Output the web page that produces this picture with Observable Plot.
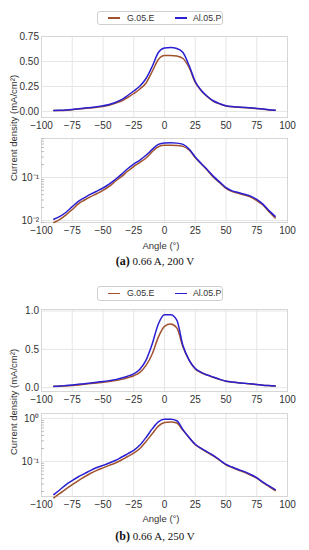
<!DOCTYPE html>
<html>
<head>
<meta charset="utf-8">
<script src="https://cdn.jsdelivr.net/npm/d3@7"></script>
<script src="https://cdn.jsdelivr.net/npm/@observablehq/plot@0.6"></script>
<style>
  html, body { margin: 0; padding: 0; background: #fff; }
  #root { position: relative; width: 309px; height: 550px; overflow: hidden; font-family: "Liberation Sans", Arial, sans-serif; color: #333; }
  .legend { position: absolute; border: 1px solid #cfcfcf; border-radius: 3px; box-sizing: border-box; font-size: 8.8px; color: #333; background: #fff; }
  .legend .sw { position: absolute; height: 1.6px; width: 12px; }
  .legend .lb { position: absolute; line-height: 1; white-space: nowrap; }
  .ylab { position: absolute; white-space: nowrap; font-size: 9.5px; color: #333; transform: translate(-50%, -50%) rotate(-90deg); }
  .xlab { position: absolute; white-space: nowrap; font-size: 9.5px; color: #333; transform: translate(-50%, -50%); }
  .cap { position: absolute; white-space: nowrap; font-family: "Liberation Serif", "DejaVu Serif", serif; font-size: 11px; color: #111; transform: translate(-50%, -50%); }
</style>
</head>
<body>
<div id="root"></div>
<script>
// ---------------- data ----------------
const seriesNames = ["G.05.E", "Al.05.P"];
const angles = [-90,-85,-80,-75,-70,-65,-60,-55,-50,-45,-40,-35,-30,-25,-20,-15,-10,-5,0,5,10,15,20,25,30,35,40,45,50,55,60,65,70,75,80,85,90];

// (a) 0.66 A, 200 V
const aG  = [0.009,0.0107,0.0136,0.018,0.0245,0.030,0.036,0.042,0.050,0.062,0.082,0.105,0.14,0.18,0.225,0.285,0.40,0.52,
             0.56,
             0.56,0.555,0.53,0.44,0.29,0.205,0.145,0.10,0.075,0.056,0.047,0.043,0.039,0.035,0.029,0.023,0.016,0.0115];
const aAl = [0.0107,0.0125,0.0156,0.021,0.028,0.034,0.041,0.048,0.057,0.07,0.09,0.118,0.16,0.205,0.255,0.33,0.45,0.59,
             0.635,
             0.64,0.63,0.59,0.46,0.30,0.21,0.15,0.105,0.078,0.058,0.049,0.045,0.041,0.037,0.031,0.024,0.017,0.0125];

// (b) 0.66 A, 250 V
const bG  = [0.0143,0.018,0.023,0.029,0.036,0.044,0.053,0.062,0.071,0.081,0.092,0.108,0.13,0.156,0.2,0.29,0.44,0.66,
             0.80,
             0.83,0.78,0.53,0.36,0.245,0.195,0.16,0.133,0.105,0.083,0.072,0.063,0.056,0.048,0.041,0.032,0.026,0.021];
const bAl = [0.017,0.022,0.029,0.036,0.044,0.052,0.062,0.072,0.081,0.092,0.105,0.125,0.15,0.18,0.24,0.36,0.57,0.83,
             0.95,
             0.95,0.88,0.55,0.36,0.25,0.20,0.165,0.137,0.108,0.085,0.074,0.065,0.058,0.05,0.042,0.033,0.027,0.022];

// ticks
const xTicks = [-100,-75,-50,-25,0,25,50,75,100];
const yTicksLinA = [0, 0.25, 0.5, 0.75];
const yTicksLinB = [0, 0.5, 1.0];
const yTicksLogA = [0.01, 0.1];
const yTicksLogB = [0.1, 1];

const captions = [["(a)", " 0.66 A, 200 V"], ["(b)", " 0.66 A, 250 V"]];
const yLabelText = "Current density (mA/cm²)";
const xLabelText = "Angle (°)";

// ---------------- style ----------------
const colG = "#a0522d";
const colAl = "#2a1fd2";
const gridCol = "#e6e6e6";
const W = 309, ML = 41, MR = 22;

const supMap = {"-": "⁻", "0": "⁰", "1": "¹", "2": "²", "3": "³"};
const powFmt = d => "10" + String(Math.round(Math.log10(d))).split("").map(c => supMap[c]).join("");

function minorTicks(domain) {
  const out = [];
  for (let e = -3; e <= 1; e++) for (let m = 2; m <= 9; m++) {
    const v = m * Math.pow(10, e);
    if (v >= domain[0] && v <= domain[1]) out.push(v);
  }
  return out;
}

function rowsOf(G, Al) {
  return angles.map((a, i) => ({angle: a, G: G[i], Al: Al[i]}));
}

const root = document.getElementById("root");

function panel({rows, top, frameH, yType, yDomain, yTicks, yFmt}) {
  const mt = 10, mb = 18;
  const marks = [
    Plot.gridX(xTicks, {stroke: gridCol, strokeOpacity: 1}),
    Plot.gridY(yTicks, {stroke: gridCol, strokeOpacity: 1}),
    Plot.frame({stroke: "#d6d6d6"}),
    Plot.axisX(xTicks, {tickSize: 0, tickPadding: 4.5, label: null, tickFormat: d => d < 0 ? "−" + (-d) : String(d)}),
    Plot.axisY(yTicks, {tickSize: 0, tickPadding: 2.5, label: null, tickFormat: yFmt})
  ];
  if (yType === "log") {
    marks.push(Plot.axisY(minorTicks(yDomain), {tickSize: -3, tickFormat: () => "", label: null, stroke: "#bdbdbd"}));
  }
  marks.push(
    Plot.line(rows, {x: "angle", y: "G", stroke: colG, strokeWidth: 1.5, curve: "monotone-x"}),
    Plot.line(rows, {x: "angle", y: "Al", stroke: colAl, strokeWidth: 1.5, curve: "monotone-x"})
  );
  const svg = Plot.plot({
    width: W,
    height: mt + frameH + mb,
    marginLeft: ML, marginRight: MR, marginTop: mt, marginBottom: mb,
    x: {domain: [-100, 100]},
    y: {type: yType, domain: yDomain},
    style: {fontSize: "10px", fontFamily: "'Liberation Sans', Arial, sans-serif", color: "#333", background: "transparent", overflow: "visible"},
    marks
  });
  svg.style.position = "absolute";
  svg.style.left = "0px";
  svg.style.top = (top - mt) + "px";
  root.appendChild(svg);
}

function legend(cy) {
  const d = document.createElement("div");
  d.className = "legend";
  d.style.left = "97px"; d.style.top = (cy - 7) + "px";
  d.style.width = "126px"; d.style.height = "14.5px";
  const items = [
    {name: seriesNames[0], col: colG, sx: 10, tx: 29},
    {name: seriesNames[1], col: colAl, sx: 77, tx: 95}
  ];
  for (const it of items) {
    const s = document.createElement("div");
    s.className = "sw"; s.style.background = it.col; s.style.left = it.sx + "px"; s.style.top = "5.6px";
    d.appendChild(s);
    const t = document.createElement("div");
    t.className = "lb"; t.textContent = it.name; t.style.left = it.tx + "px"; t.style.top = "2.2px";
    d.appendChild(t);
  }
  root.appendChild(d);
}

function textAt(cls, txt, x, y) {
  const d = document.createElement("div");
  d.className = cls; d.textContent = txt;
  d.style.left = x + "px"; d.style.top = y + "px";
  root.appendChild(d);
  return d;
}

function caption(parts, x, y) {
  const d = document.createElement("div");
  d.className = "cap";
  const b = document.createElement("b"); b.textContent = parts[0];
  b.style.fontSize = "12px";
  d.appendChild(b);
  d.appendChild(document.createTextNode(parts[1]));
  d.style.left = x + "px"; d.style.top = y + "px";
  root.appendChild(d);
}

// ---------- group (a) ----------
const rowsA = rowsOf(aG, aAl);
legend(17.5);
panel({rows: rowsA, top: 36, frameH: 81, yType: "linear", yDomain: [-0.06, 0.75], yTicks: yTicksLinA, yFmt: d3.format(".2f")});
panel({rows: rowsA, top: 138, frameH: 84, yType: "log", yDomain: [0.009, 0.807], yTicks: yTicksLogA, yFmt: powFmt});
textAt("ylab", yLabelText, 13, 128);
textAt("xlab", xLabelText, 161, 245);
caption(captions[0], 155, 261);

// ---------- group (b) ----------
const rowsB = rowsOf(bG, bAl);
legend(293);
panel({rows: rowsB, top: 309, frameH: 82, yType: "linear", yDomain: [-0.05, 1.02], yTicks: yTicksLinB, yFmt: d3.format(".1f")});
panel({rows: rowsB, top: 413, frameH: 83, yType: "log", yDomain: [0.0153, 1.3], yTicks: yTicksLogB, yFmt: powFmt});
textAt("ylab", yLabelText, 13, 402);
textAt("xlab", xLabelText, 161, 518);
caption(captions[1], 155, 536);
</script>
</body>
</html>
